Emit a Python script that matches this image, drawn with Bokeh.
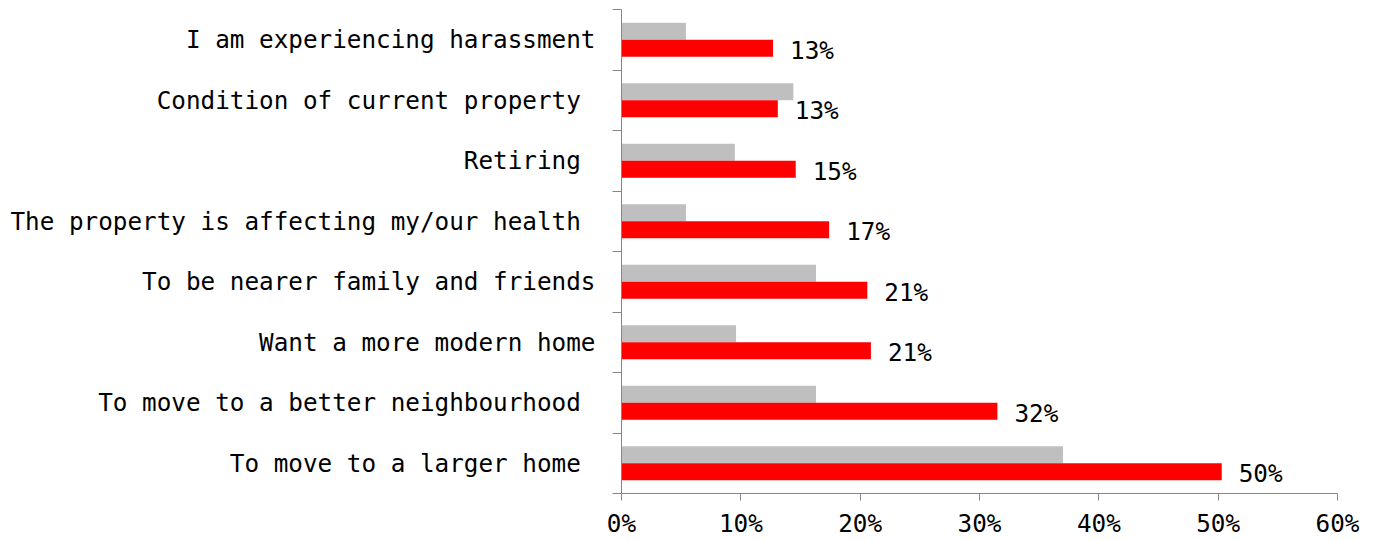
from bokeh.plotting import figure
from bokeh.models import Range1d, FixedTicker, ColumnDataSource, PrintfTickFormatter
from bokeh.embed import file_html
from bokeh.resources import INLINE
from bokeh.core.properties import value

# Reasons for wanting to move, listed top to bottom
reasons = [
    "I am experiencing harassment",
    "Condition of current property ",
    "Retiring ",
    "The property is affecting my/our health ",
    "To be nearer family and friends",
    "Want a more modern home",
    "To move to a better neighbourhood ",
    "To move to a larger home ",
]
# Share of respondents (%)
comparison = [5.4, 14.4, 9.5, 5.4, 16.3, 9.6, 16.3, 37.0]
current = [12.7, 13.1, 14.6, 17.4, 20.6, 20.9, 31.5, 50.3]
x_ticks = [0, 10, 20, 30, 40, 50, 60]

FONT = "DejaVu Sans Mono"
SIZE = "24.3px"
AXIS_GREY = "#868686"

n = len(reasons)
centers = [n - i - 0.5 for i in range(n)]
bar_h = 0.28
shift = 0.14

grey_src = ColumnDataSource(dict(y=[c + shift for c in centers], right=comparison))
red_src = ColumnDataSource(dict(
    y=[c - shift for c in centers],
    right=current,
    label=[f"{round(v)}%" for v in current],
))

p = figure(
    width=1374, height=540,
    x_range=Range1d(0, 60), y_range=Range1d(0, n),
    output_backend="svg", toolbar_location=None,
    min_border_left=621, min_border_right=37,
    min_border_top=9, min_border_bottom=47,
)
p.outline_line_color = None
p.xgrid.grid_line_color = None
p.ygrid.grid_line_color = None

p.hbar(y="y", right="right", left=0, height=bar_h, source=grey_src,
       fill_color="#BFBFBF", line_color=None)
p.hbar(y="y", right="right", left=0, height=bar_h, source=red_src,
       fill_color="#FF0000", line_color=None)

p.text(x="right", y="y", text="label", source=red_src,
       x_offset=17, y_offset=2, text_baseline="middle", text_align="left",
       text_font=value(FONT), text_font_size=SIZE, text_color="#000000")

# x axis: percentages
xa = p.xaxis[0]
xa.ticker = FixedTicker(ticks=x_ticks)
xa.formatter = PrintfTickFormatter(format="%d%%")
xa.major_tick_out = 7
xa.major_tick_in = 0
xa.minor_tick_out = 0
xa.minor_tick_in = 0
xa.major_label_standoff = 8
xa.axis_line_color = AXIS_GREY
xa.major_tick_line_color = AXIS_GREY
xa.major_label_text_font = FONT
xa.major_label_text_font_size = SIZE
xa.major_label_text_color = "#000000"

# y axis: category labels at band centres, tick marks at band edges
ya = p.yaxis[0]
ya.ticker = FixedTicker(ticks=centers, minor_ticks=list(range(n + 1)))
ya.major_label_overrides = {c: r for c, r in zip(centers, reasons)}
ya.major_tick_out = 0
ya.major_tick_in = 0
ya.minor_tick_out = 9
ya.minor_tick_in = 0
ya.major_label_standoff = 17
ya.axis_line_color = AXIS_GREY
ya.minor_tick_line_color = AXIS_GREY
ya.major_label_text_font = FONT
ya.major_label_text_font_size = SIZE
ya.major_label_text_color = "#000000"

open("out.html", "w").write(file_html(p, INLINE))
